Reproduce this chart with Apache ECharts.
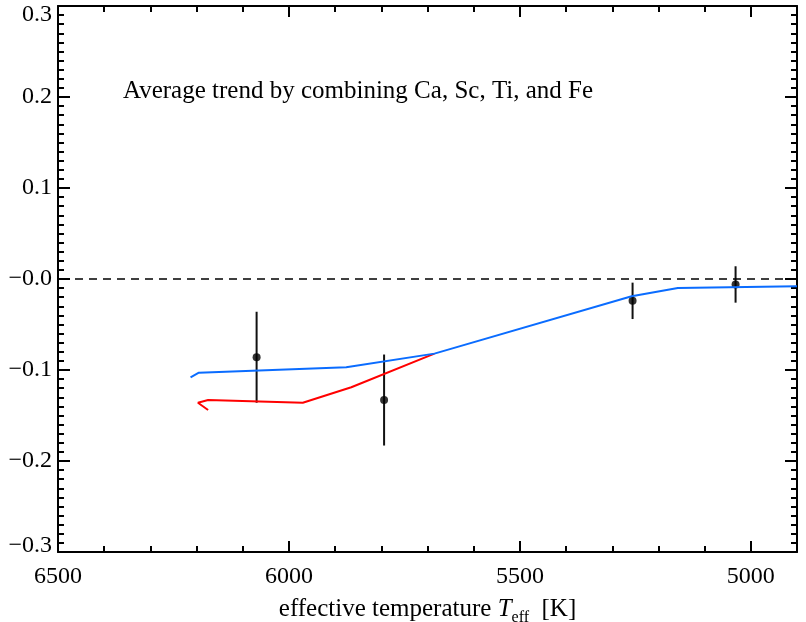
<!DOCTYPE html>
<html>
<head>
<meta charset="utf-8">
<script src="https://cdn.jsdelivr.net/npm/echarts@6/dist/echarts.min.js"></script>
<style>html,body{margin:0;padding:0;background:#fff}#chart{width:806px;height:622px}</style>
</head>
<body>
<div id="chart"></div>
<script>
// blue track
const blueTeff = [6213, 6195, 5876, 5685, 5258, 5158, 4900];
const blueVal = [-0.108, -0.103, -0.097, -0.082, -0.019, -0.010, -0.008];
// red track
const redTeff = [5685, 5865, 5970, 6175, 6197, 6175];
const redVal = [-0.082, -0.119, -0.136, -0.133, -0.136, -0.144];
// measured points with error bars
const ptTeff = [6070, 5794, 5256, 5033];
const ptVal = [-0.086, -0.133, -0.024, -0.006];
const ptErr = [0.050, 0.050, 0.020, 0.020];
// ticks
const xMajor = [6500, 6000, 5500, 5000];
const xMajorLabels = ['6500', '6000', '5500', '5000'];
const yTickVals = [0.3, 0.2, 0.1, 0, -0.1, -0.2, -0.3];
const yTickLabels = ['0.3', '0.2', '0.1', '\u22120.0', '\u22120.1', '\u22120.2', '\u22120.3'];

const FONT = '"Liberation Serif", "DejaVu Serif", serif';
const chart = echarts.init(document.getElementById('chart'));

function minorX(pos) {
	return {
		type: 'value', position: pos, min: 4900, max: 6500, interval: 100, inverse: true,
		axisLine: { show: true, onZero: false, lineStyle: { color: '#000', width: 2 } },
		axisTick: { show: true, inside: true, length: 6, lineStyle: { color: '#000', width: 2 } },
		axisLabel: { show: false },
		splitLine: { show: false }
	}
}
function majorX(pos, withLabels) {
	const ax = {
		type: 'value', position: pos, min: 4900, max: 6500, inverse: true,
		axisLine: { show: false, onZero: false },
		axisTick: { show: true, inside: true, length: 11, customValues: xMajor, lineStyle: { color: '#000', width: 2 } },
		axisLabel: { show: false },
		splitLine: { show: false }
	}
	if (withLabels) {
		ax.axisLabel = {
			show: true, customValues: xMajor, margin: 13,
			fontFamily: FONT, fontSize: 24, color: '#000',
			formatter: v => xMajorLabels[xMajor.indexOf(v)]
		}
		ax.name = 'effective temperature {i|T}{s|eff}  [K]'
		ax.nameLocation = 'middle'
		ax.nameGap = 38
		ax.nameTextStyle = {
			fontFamily: FONT, fontSize: 25, color: '#000', lineHeight: 32,
			rich: {
				i: { fontFamily: FONT, fontSize: 25, fontStyle: 'italic', lineHeight: 32 },
				s: { fontFamily: FONT, fontSize: 16, lineHeight: 32, verticalAlign: 'bottom' }
			}
		}
	}
	return ax
}
function yAx(pos, withLabels) {
	return {
		type: 'value', position: pos, min: -0.3, max: 0.3, interval: 0.1,
		axisLine: { show: true, onZero: false, lineStyle: { color: '#000', width: 2 } },
		axisTick: { show: true, inside: true, length: 12, lineStyle: { color: '#000', width: 2 } },
		minorTick: { show: true, splitNumber: 10, length: 6, lineStyle: { color: '#000', width: 2 } },
		axisLabel: {
			show: withLabels, margin: 6, fontFamily: FONT, fontSize: 24, color: '#000',
			formatter: v => {
				const i = yTickVals.findIndex(t => Math.abs(t - v) < 1e-6)
				if (i < 0) return ''
				// keep the end labels inside the frame, as in the original
				if (i === 0) return '{t|' + yTickLabels[i] + '}'
				if (i === yTickVals.length - 1) return '{b|' + yTickLabels[i] + '}'
				return yTickLabels[i]
			},
			rich: {
				t: { fontFamily: FONT, fontSize: 24, color: '#000', padding: [18, 0, 0, 0] },
				b: { fontFamily: FONT, fontSize: 24, color: '#000', padding: [0, 0, 12, 0] }
			}
		},
		splitLine: { show: false }
	}
}

chart.setOption({
	animation: false,
	grid: { left: 58, right: 9, top: 6, bottom: 70, outerBoundsMode: 'none', containLabel: false },
	xAxis: [minorX('bottom'), majorX('bottom', true), minorX('top'), majorX('top', false)],
	yAxis: [yAx('left', true), yAx('right', false)],
	graphic: [{
		type: 'text', left: 123, top: 79,
		style: { text: 'Average trend by combining Ca, Sc, Ti, and Fe', font: '25px ' + FONT, fill: '#000' }
	}],
	series: [
		{
			type: 'line', xAxisIndex: 0, yAxisIndex: 0, symbol: 'none',
			data: [[4900, 0], [6500, 0]],
			lineStyle: { color: '#000', width: 1.5, type: [8, 6] }
		},
		{
			type: 'line', xAxisIndex: 0, yAxisIndex: 0, symbol: 'none',
			data: redTeff.map((t, i) => [t, redVal[i]]),
			lineStyle: { color: '#ff0000', width: 2 }
		},
		{
			type: 'line', xAxisIndex: 0, yAxisIndex: 0, symbol: 'none',
			data: blueTeff.map((t, i) => [t, blueVal[i]]),
			lineStyle: { color: '#0a6cff', width: 2 }
		},
		{
			type: 'custom', xAxisIndex: 0, yAxisIndex: 0,
			data: ptTeff.map((t, i) => [t, ptVal[i] - ptErr[i], ptVal[i] + ptErr[i]]),
			encode: { x: 0, y: [1, 2] },
			renderItem(params, api) {
				const p1 = api.coord([api.value(0), api.value(1)])
				const p2 = api.coord([api.value(0), api.value(2)])
				return {
					type: 'line',
					shape: { x1: p1[0], y1: p1[1], x2: p2[0], y2: p2[1] },
					style: { stroke: '#111', lineWidth: 2 }
				}
			}
		},
		{
			type: 'scatter', xAxisIndex: 0, yAxisIndex: 0, symbol: 'circle', symbolSize: 8,
			data: ptTeff.map((t, i) => [t, ptVal[i]]),
			itemStyle: { color: '#000' }
		}
	]
})
</script>
</body>
</html>
